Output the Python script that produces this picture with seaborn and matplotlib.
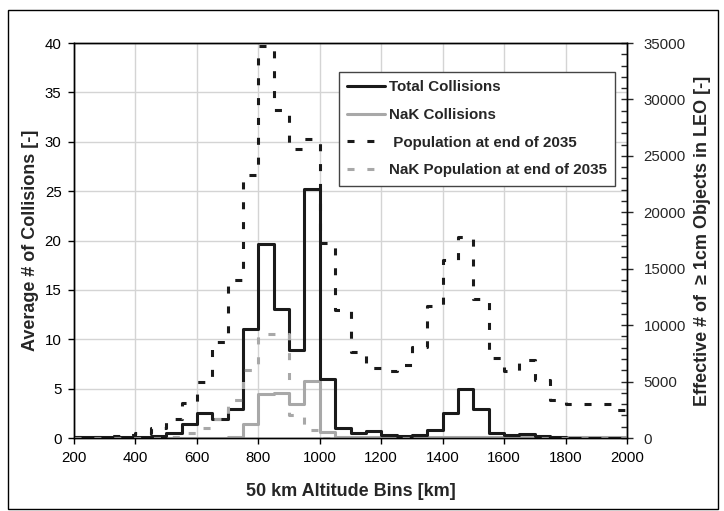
import matplotlib
matplotlib.use("Agg")
import matplotlib.pyplot as plt
import seaborn as sns
import pandas as pd
from matplotlib.lines import Line2D
from matplotlib.patches import Rectangle
from matplotlib.ticker import MultipleLocator

# ---- data (50 km altitude bins, value per bin start) ----
bin_start = [200, 250, 300, 350, 400, 450, 500, 550, 600, 650,
             700, 750, 800, 850, 900, 950, 1000, 1050, 1100, 1150,
             1200, 1250, 1300, 1350, 1400, 1450, 1500, 1550, 1600, 1650,
             1700, 1750, 1800, 1850, 1900, 1950]
bin_end = 2000

total_collisions = [0.1, 0.1, 0.15, 0.15, 0.15, 0.2, 0.5, 1.4, 2.5, 1.95,
                    2.9, 11.0, 19.6, 13.05, 8.95, 25.2, 5.95, 1.0, 0.47, 0.7,
                    0.3, 0.25, 0.3, 0.8, 2.5, 4.96, 2.9, 0.47, 0.3, 0.4,
                    0.2, 0.1, 0.05, 0.05, 0.05, 0.05]

nak_collisions = [0.02, 0.02, 0.02, 0.02, 0.02, 0.02, 0.03, 0.03, 0.04, 0.05,
                  0.15, 1.45, 4.5, 4.6, 3.4, 5.8, 0.6, 0.1, 0.07, 0.07,
                  0.07, 0.07, 0.07, 0.07, 0.07, 0.07, 0.07, 0.07, 0.07, 0.07,
                  0.07, 0.07, 0.07, 0.07, 0.07, 0.07]

population_2035 = [50, 80, 180, 240, 470, 860, 1680, 3070, 4990, 8520,
                   14040, 23260, 34750, 29070, 25580, 26470, 17280, 11340, 7650, 6200,
                   5900, 6470, 8090, 11700, 15800, 17790, 12320, 7080, 5960, 6900,
                   5140, 3370, 3010, 2990, 2980, 2510]

nak_population_2035 = [0, 0, 0, 0, 0, 0, 100, 400, 900, 1700,
                       3400, 6050, 9200, 9200, 2000, 700, 0, 0, 0, 0,
                       0, 0, 0, 0, 0, 0, 0, 0, 0, 0,
                       0, 0, 0, 0, 0, 0]

legend_labels = ["Total Collisions", "NaK Collisions",
                 " Population at end of 2035", "NaK Population at end of 2035"]


def step_frame(values):
    xs = list(bin_start) + [bin_end]
    ys = list(values) + [values[-1]]
    return pd.DataFrame({"alt": xs, "val": ys})


sns.set_style("white")
plt.rcParams["font.family"] = ["Liberation Sans", "DejaVu Sans"]

BLACK = "#1a1a1a"
GRAY = "#a8a8a8"
LW = 2.2
DASH = (2.3, 4.2)

fig = plt.figure(figsize=(7.24, 5.11), dpi=100)
ax = fig.add_axes([74 / 724, 1 - 438 / 511, 553 / 724, 395 / 511])
ax2 = ax.twinx()

# grid on left axis
ax.set_axisbelow(True)
ax.grid(True, color="#d4d4d4", lw=1.0)

sns.lineplot(data=step_frame(total_collisions), x="alt", y="val", ax=ax,
             drawstyle="steps-post", color=BLACK, lw=LW, zorder=4)
sns.lineplot(data=step_frame(nak_collisions), x="alt", y="val", ax=ax,
             drawstyle="steps-post", color=GRAY, lw=LW, zorder=3)
sns.lineplot(data=step_frame(population_2035), x="alt", y="val", ax=ax2,
             drawstyle="steps-post", color=BLACK, lw=LW, dashes=DASH)
sns.lineplot(data=step_frame(nak_population_2035), x="alt", y="val", ax=ax2,
             drawstyle="steps-post", color=GRAY, lw=LW, dashes=DASH)

for a in (ax, ax2):
    for s in a.spines.values():
        s.set_visible(True)
        s.set_color("black")
        s.set_linewidth(1.0)

ax.set_xlim(200, 2000)
ax.set_ylim(0, 40)
ax2.set_ylim(0, 35000)
ax.xaxis.set_major_locator(MultipleLocator(200))
ax.yaxis.set_major_locator(MultipleLocator(5))
ax2.yaxis.set_major_locator(MultipleLocator(5000))
ax2.yaxis.set_minor_locator(MultipleLocator(1000))

ax.tick_params(axis="both", which="major", direction="out", length=4, width=1,
               labelsize=10.8, colors="black", pad=5, bottom=True, left=True)
ax2.tick_params(axis="y", which="major", direction="inout", length=8, width=1,
                labelsize=10.8, pad=8, right=True)
ax2.tick_params(axis="y", which="minor", direction="in", length=4, width=1, right=True)

ax.set_xlabel("50 km Altitude Bins [km]", fontsize=13, fontweight="bold", labelpad=13)
ax.set_ylabel("Average # of Collisions [-]", fontsize=13, fontweight="bold", labelpad=4)
ax2.set_ylabel("Effective # of  \u2265 1cm Objects in LEO [-]", fontsize=13,
               fontweight="bold", labelpad=6)

handles = [
    Line2D([], [], color=BLACK, lw=LW),
    Line2D([], [], color=GRAY, lw=LW),
    Line2D([], [], color=BLACK, lw=LW, dashes=DASH),
    Line2D([], [], color=GRAY, lw=LW, dashes=DASH),
]
leg = ax2.legend(handles, legend_labels, loc="upper left",
                 bbox_to_anchor=((339 - 74) / 553, (438 - 72) / 395),
                 borderaxespad=0, frameon=True, fancybox=False,
                 prop={"weight": "bold", "size": 10.9},
                 handlelength=2.5, handletextpad=0.25, labelspacing=0.9,
                 borderpad=0.55)
leg.get_frame().set_edgecolor("#444444")
leg.get_frame().set_linewidth(1.0)
leg.get_frame().set_facecolor("white")
leg.get_frame().set_alpha(1)

fig.patches.append(Rectangle((8 / 724, 2 / 511), 710 / 724, 499 / 511,
                             transform=fig.transFigure, fill=False,
                             edgecolor="black", lw=1.0))

fig.savefig("out.png", dpi=100, facecolor="white")
